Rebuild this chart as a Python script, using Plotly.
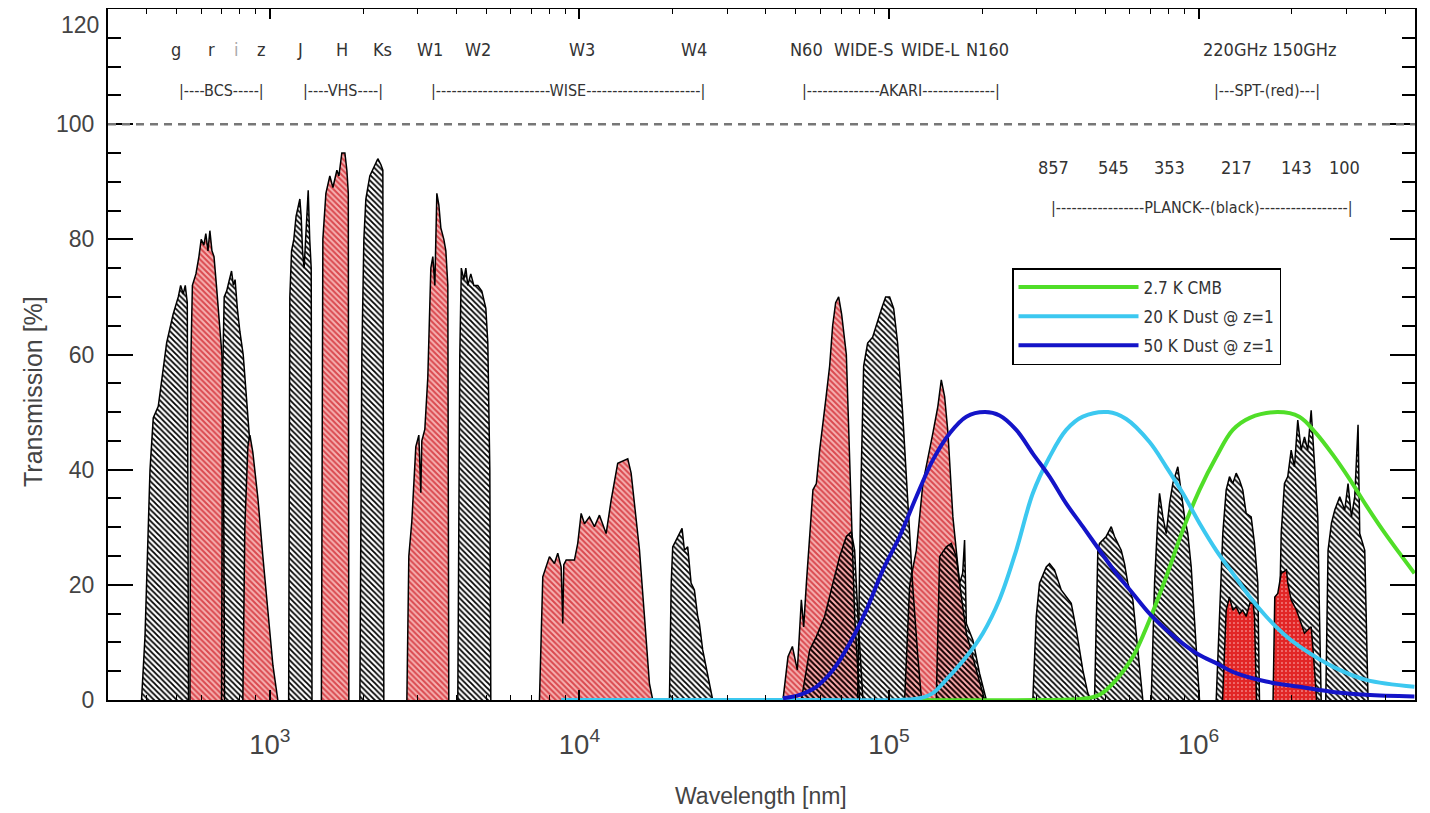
import math
import plotly.graph_objects as go

# ---------------- data: filter transmission curves (wavelength nm, transmission %) ----------------
# BCS (g, i grey ; r, z red)
g_wl = [385, 395, 410, 420, 436, 464, 487, 506, 515, 525, 533, 541, 546]
g_tr = [0, 11, 40, 49, 51, 62, 67, 70, 72, 70.5, 72, 69, 0]
r_wl = [552, 556, 562, 577, 590, 600, 612, 621, 631, 640, 650, 660, 672, 685, 700, 708, 714]
r_tr = [0, 60, 72, 74, 77, 80, 79, 81, 78, 81.5, 78, 77, 72, 66, 60, 45, 0]
i_wl = [698, 703, 712, 725, 740, 752, 762, 772, 785, 800, 820, 841, 858, 868, 875]
i_tr = [0, 55, 70, 71, 73, 74.5, 72, 73, 68, 64, 60, 52, 46, 35, 0]
z_wl = [818, 830, 849, 862, 881, 915, 949, 985, 1023, 1061]
z_tr = [0, 30, 44, 46, 43, 35, 25, 15, 6, 0]
# VHS (J, Ks grey ; H red)
J_wl = [1150, 1160, 1175, 1195, 1215, 1235, 1250, 1262, 1275, 1290, 1310, 1330, 1345, 1360, 1368]
J_tr = [0, 70, 78, 80, 84, 86, 87, 84, 78, 75, 82, 88.5, 80, 75, 0]
H_wl = [1467, 1483, 1517, 1562, 1598, 1646, 1671, 1708, 1747, 1773, 1792, 1799]
H_tr = [0, 80, 88, 91, 89, 92, 91, 95, 95, 92, 88, 0]
Ks_wl = [1953, 1982, 2012, 2042, 2103, 2183, 2232, 2283, 2317, 2334]
Ks_tr = [0, 60, 80, 87, 91, 93, 94, 93, 92, 0]
# WISE (W1, W3 red ; W2, W4 grey)
W1_wl = [2770, 2811, 2874, 2961, 3028, 3073, 3096, 3166, 3237, 3311, 3360, 3411, 3462, 3514, 3567, 3647, 3702, 3757, 3784]
W1_tr = [0, 25, 31, 44, 46, 36, 45, 47, 56, 75, 77, 72, 88, 86, 82, 80, 78, 72, 0]
W2_wl = [4046, 4107, 4153, 4231, 4295, 4359, 4457, 4558, 4695, 4837, 4984, 5058, 5134, 5172]
W2_tr = [0, 60, 75, 73, 75, 72, 74, 72, 72, 71, 68, 62, 40, 0]
W3_wl = [7428, 7613, 8000, 8303, 8510, 8727, 8833, 8900, 9059, 9635, 9874, 10127, 10380, 10772,
         11181, 11604, 12195, 12658, 13292, 13975, 14322, 14687, 15054, 15625, 16218, 16827, 17247]
W3_tr = [0, 21.4, 24.9, 23.7, 25.5, 23.1, 13.3, 23.5, 24.3, 24.3, 27.2, 32.4, 30.6, 31.8,
         30.1, 32.1, 28.9, 34.7, 41.1, 41.6, 41.9, 39.4, 34, 26.1, 14.5, 2.9, 0]
W4_wl = [19530, 19780, 20010, 21030, 21450, 21830, 22370, 22940, 23510, 24100, 24400, 25010, 25960, 26940]
W4_tr = [0, 20, 26.6, 28.9, 29.8, 26, 26.6, 20.3, 19.1, 14.5, 13.3, 8.7, 4.1, 0]
# AKARI (red: N60, WIDE-L ; grey: the others)
N60_wl = [45430, 47160, 48730, 50570, 52090, 53000, 54080, 56780, 58240, 59690, 62410, 64290,
          65740, 67230, 68750, 70290, 72790, 75550, 77430, 80370]
N60_tr = [0, 7.5, 9.3, 5.2, 17.4, 12.7, 20.3, 36.5, 37.6, 43.4, 52, 58, 65, 69, 70, 67, 60, 31.8, 14.5, 0]
akB_wl = [52090, 55420, 58240, 61950, 65890, 69260, 72790, 75550, 77430, 79360, 82360]
akB_tr = [0, 8.7, 11, 14.5, 20.3, 24.9, 28.4, 29.2, 26, 14.5, 0]
WS_wl = [79180, 80960, 82790, 85290, 88510, 91880, 94650, 97500, 100450, 103500, 106600, 110600,
         114800, 119200, 123700, 127400]
WS_tr = [0, 35, 58, 62, 63, 66, 68, 70, 70, 68, 62, 50, 35, 20, 8, 0]
WL_wl = [112300, 116600, 122500, 128700, 138600, 143800, 147500, 151200, 155000, 160800, 169000,
         177700, 191400, 203600]
WL_tr = [0, 20, 26, 37.7, 46.4, 51, 55.6, 52.7, 46.4, 31.8, 20.3, 11.6, 5.2, 0]
N160_wl = [142100, 145700, 153100, 158900, 164900, 169000, 172900, 175400, 177700, 186600, 196100, 206200]
N160_tr = [0, 24.9, 26.6, 27.2, 24.9, 20.3, 22, 27.8, 13.3, 10.4, 4.6, 0]
# PLANCK (grey)
P857_wl = [291400, 298900, 306300, 322000, 330000, 342400, 359900, 373600, 387800, 402500, 422700, 438600, 449800]
P857_tr = [0, 14.5, 20.3, 23.1, 23.7, 22.6, 19.1, 17.9, 16.8, 12.2, 5.2, 1.2, 0]
P545_wl = [461100, 472600, 478600, 503000, 522100, 535000, 548300, 562400, 576300, 590600, 613100,
           628800, 644400, 660400]
P545_tr = [0, 26, 27.2, 28.4, 30.1, 28.4, 27.2, 26, 23.7, 20.3, 17.4, 11.6, 5.2, 0]
P353_wl = [703000, 720600, 738500, 747900, 766400, 786000, 805500, 825500, 856700, 878700, 900500,
           922800, 946500, 957800, 982300, 1006700]
P353_tr = [0, 20.3, 31.8, 35.9, 31.8, 28.9, 34.1, 37.6, 40.5, 36.5, 31.8, 28.9, 23.1, 18.5, 8.7, 0]
P217_wl = [1139800, 1168200, 1197000, 1227800, 1258300, 1289400, 1322400, 1355300, 1388800, 1424400,
           1478400, 1515100, 1552800, 1572500]
P217_tr = [0, 14.5, 28.9, 36.5, 38.8, 37.6, 39.4, 38.2, 36.5, 32.4, 31.8, 27.2, 20.3, 0]
P143_wl = [1801900, 1848100, 1894000, 1940900, 1990700, 2040100, 2090600, 2144300, 2197900, 2252200,
           2310000, 2367100, 2426000, 2456800, 2488100]
P143_tr = [0, 28.9, 37.6, 38.8, 43.4, 40.5, 48.6, 43.4, 45.7, 43.4, 50.3, 40.5, 31.8, 15, 0]
P100_wl = [2574600, 2619000, 2686100, 2753000, 2857100, 2965300, 3038700, 3116700, 3194200, 3273400,
           3315000, 3440200, 3526000]
P100_tr = [0, 26, 30.7, 33, 35.3, 33, 37.6, 31.8, 35.3, 47.8, 28.9, 26, 0]
# SPT (red)
S220_wl = [1194600, 1227800, 1258300, 1289400, 1322400, 1355300, 1388800, 1424400, 1463500, 1499700, 1515100, 1538100]
S220_tr = [0, 15.6, 17.9, 15.6, 16.2, 15.0, 15.6, 14.5, 16.8, 16.8, 14.5, 0]
S150_wl = [1740000, 1762000, 1801900, 1848100, 1922200, 1940900, 1990700, 2070700, 2144300, 2197900,
           2252200, 2310000, 2342600, 2406000]
S150_tr = [0, 17.9, 18.5, 22.0, 22.6, 20.3, 17.4, 15.6, 13.3, 11.6, 12.2, 12.7, 8.7, 0]

# ---------------- data: normalised emission spectra ----------------
cmb_wl = [110900, 300000, 422700, 478600, 541800, 613100, 694200, 786000, 889200, 1006700, 1139800,
          1289400, 1463500, 1800000, 2114800, 2397600, 2712400, 3070600, 3477100, 3933600, 4454700, 4978600]
cmb_tr = [0, 0, 0.2, 0.9, 3.5, 7.5, 13.9, 21.4, 29.5, 36.5, 42.2, 46.9, 49.0, 50, 49.2, 46.3, 42.6,
          38.4, 33.8, 29.5, 25.5, 22]
d20_wl = [8727, 60000, 108200, 125500, 138600, 149300, 177700, 201000, 227600, 257600, 291400, 330000,
          373600, 422700, 510000, 583700, 694200, 786000, 889200, 1006700, 1139800, 1289400, 1463500,
          1653000, 1870500, 2117200, 2712400, 3477100, 4978600]
d20_tr = [0, 0, 0, 0.3, 1.2, 2.9, 7.5, 11.6, 17.5, 26, 35.9, 42.2, 46.9, 49.2, 50, 48.8, 44.8, 40.5,
          35.9, 30.7, 26, 22, 17.9, 14.5, 11.6, 9.3, 5.8, 3.5, 2.3]
d50_wl = [45430, 51440, 58240, 65890, 74600, 84470, 95560, 108200, 122500, 138600, 156900, 177700,
          204000, 227600, 257600, 291400, 330000, 373600, 422700, 478600, 541800, 613100, 694200,
          786000, 889200, 1006700, 1139800, 1289400, 1653000, 2117200, 2712400, 3477100, 4978600]
d50_tr = [0.3, 0.9, 2.3, 5.2, 9.8, 15.6, 22.6, 28.4, 35.3, 41.7, 46.3, 49.2, 50, 49.4, 46.9, 42.8,
          38.8, 34.1, 30.1, 26, 22, 18.5, 15, 12.2, 9.8, 7.8, 6.4, 4.9, 3.2, 2.3, 1.4, 0.9, 0.6]

x_min, x_max = 300, 5e6
y_min, y_max = 0, 120
ref_level = 100

# ---------------- styling ----------------
NARROW = "Liberation Sans Narrow, Arial Narrow, DejaVu Sans Condensed, Liberation Sans, Arial, sans-serif"
SANS = "Liberation Sans, Arial, Helvetica, sans-serif"
TXT = "#333333"

STYLE = {
    "grey": dict(fillcolor="rgba(0,0,0,0)",
                 fillpattern=dict(shape="\\", fgcolor="black", bgcolor="rgba(0,0,0,0)",
                                  size=4, solidity=0.45, fillmode="replace")),
    "red": dict(fillcolor="rgb(242,160,160)",
                fillpattern=dict(shape="\\", fgcolor="rgb(218,72,78)", bgcolor="rgb(246,178,178)",
                                 size=4, solidity=0.5, fillmode="replace")),
    "spt": dict(fillcolor="rgb(228,40,40)",
                fillpattern=dict(shape=".", fgcolor="rgb(255,200,200)", bgcolor="rgb(226,38,38)",
                                 size=4, solidity=0.12, fillmode="replace")),
}

bands = [
    (g_wl, g_tr, "grey"), (r_wl, r_tr, "red"), (i_wl, i_tr, "grey"), (z_wl, z_tr, "red"),
    (J_wl, J_tr, "grey"), (H_wl, H_tr, "red"), (Ks_wl, Ks_tr, "grey"),
    (W1_wl, W1_tr, "red"), (W2_wl, W2_tr, "grey"), (W3_wl, W3_tr, "red"), (W4_wl, W4_tr, "grey"),
    (N60_wl, N60_tr, "red"), (WL_wl, WL_tr, "red"),
    (akB_wl, akB_tr, "grey"), (WS_wl, WS_tr, "grey"), (N160_wl, N160_tr, "grey"),
    (P857_wl, P857_tr, "grey"), (P545_wl, P545_tr, "grey"), (P353_wl, P353_tr, "grey"),
    (P217_wl, P217_tr, "grey"), (P143_wl, P143_tr, "grey"), (P100_wl, P100_tr, "grey"),
    (S220_wl, S220_tr, "spt"), (S150_wl, S150_tr, "spt"),
]

fig = go.Figure()
for wl, tr, kind in bands:
    fig.add_trace(go.Scatter(x=wl, y=tr, mode="lines", fill="tozeroy",
                             line=dict(color="black", width=1.5),
                             showlegend=False, hoverinfo="skip", **STYLE[kind]))

curves = [
    (cmb_wl, cmb_tr, "2.7 K CMB", "rgb(80,222,40)"),
    (d20_wl, d20_tr, "20 K Dust @ z=1", "rgb(60,200,240)"),
    (d50_wl, d50_tr, "50 K Dust @ z=1", "rgb(20,20,200)"),
]
for wl, tr, name, col in curves:
    fig.add_trace(go.Scatter(x=wl, y=tr, mode="lines", name=name, legendgroup=name,
                             line=dict(color=col, width=4, shape="spline", smoothing=1.0)))

# dashed 100 % reference line
fig.add_shape(type="line", xref="paper", x0=0, x1=1, yref="y", y0=ref_level, y1=ref_level,
              line=dict(color="#777777", width=2.5, dash="8px,6px"))

# ---------------- geometry (screen pixels; page body has an 8px margin) ----------------
PAGE_OFF = 8
SCR_W, SCR_H = 1430, 813
PL, PT, PR, PB = 108, 9, 1415, 700          # plot area on screen
W, H = SCR_W - PAGE_OFF, SCR_H - PAGE_OFF
ML, MT = PL - PAGE_OFF, PT - PAGE_OFF
MR, MB = SCR_W - PR, SCR_H - PB
pw, ph = PR - PL, PB - PT

def px(xs):
    return (xs - PL) / pw

def py(ys):
    return (PB - ys) / ph

def label(text, xs, ys, size=18, color=TXT, font=NARROW, **kw):
    fig.add_annotation(text=text, xref="paper", yref="paper", x=px(xs), y=py(ys),
                       showarrow=False, font=dict(family=font, size=size, color=color),
                       xanchor="center", yanchor="middle", **kw)

row1 = [("g", 176), ("r", 211), ("z", 261), ("J", 300), ("H", 342), ("Ks", 382), ("W1", 430),
        ("W2", 478), ("W3", 582), ("W4", 694), ("N60", 807), ("WIDE-S", 864), ("WIDE-L", 930),
        ("N160", 987), ("220GHz 150GHz", 1269)]
for t, xx in row1:
    label(t, xx, 49)
label("i", 236, 49, color="#aaaaaa")

row2 = [("|----BCS-----|", 221), ("|----VHS----|", 343),
        ("|" + "-" * 22 + "WISE" + "-" * 22 + "|", 568),
        ("|" + "-" * 14 + "AKARI" + "-" * 14 + "|", 901),
        ("|---SPT-(red)---|", 1267)]
for t, xx in row2:
    label(t, xx, 90, size=16)

for t, xx in [("857", 1053), ("545", 1113), ("353", 1169), ("217", 1236), ("143", 1296), ("100", 1344)]:
    label(t, xx, 168)
label("|" + "-" * 17 + "PLANCK--(black)" + "-" * 17 + "|", 1202, 207, size=16)

# y tick label at the top and axis titles
fig.add_annotation(text="120", xref="paper", yref="y", x=0, y=117.2, xanchor="right", yanchor="middle",
                   xshift=-7, showarrow=False, font=dict(family=SANS, size=23, color="#444444"))
label("Transmission [%]", 33, 392, size=25, color="#444444", font=SANS, textangle=-90)
label("Wavelength [nm]", 761, 796, size=23, color="#444444", font=SANS)

fig.update_layout(
    width=W, height=H, autosize=False,
    margin=dict(l=ML, r=MR, t=MT, b=MB, pad=0),
    paper_bgcolor="white", plot_bgcolor="white",
    xaxis=dict(type="log", range=[math.log10(x_min), math.log10(x_max)], automargin=False,
               showline=True, linecolor="black", linewidth=2, mirror="allticks",
               ticks="inside", ticklen=10, tickwidth=1.5, tickcolor="black",
               dtick=1, exponentformat="power", showgrid=False, zeroline=False,
               tickfont=dict(family=SANS, size=22, color="#444444"), ticklabelstandoff=20,
               minor=dict(ticks="inside", ticklen=5, dtick="D1", tickcolor="black", tickwidth=1.2,
                          showgrid=False)),
    yaxis=dict(range=[y_min, y_max], tickvals=[0, 20, 40, 60, 80, 100, 120], automargin=False,
               ticktext=["0", "20", "40", "60", "80", "100", ""],
               showline=True, linecolor="black", linewidth=2, mirror="allticks",
               ticks="inside", ticklen=25, tickwidth=1.5, tickcolor="black",
               showgrid=False, zeroline=False,
               tickfont=dict(family=SANS, size=23, color="#444444"), ticklabelstandoff=7,
               minor=dict(ticks="inside", ticklen=13, dtick=5, tickcolor="black", tickwidth=1.5,
                          showgrid=False)),
    legend=dict(x=px(1012), y=py(268), xanchor="left", yanchor="top",
                bgcolor="white", bordercolor="black", borderwidth=1.5,
                font=dict(family=NARROW, size=17, color=TXT),
                itemwidth=120, tracegroupgap=4, traceorder="grouped"),
    showlegend=True,
)

fig.write_html("out.html")
